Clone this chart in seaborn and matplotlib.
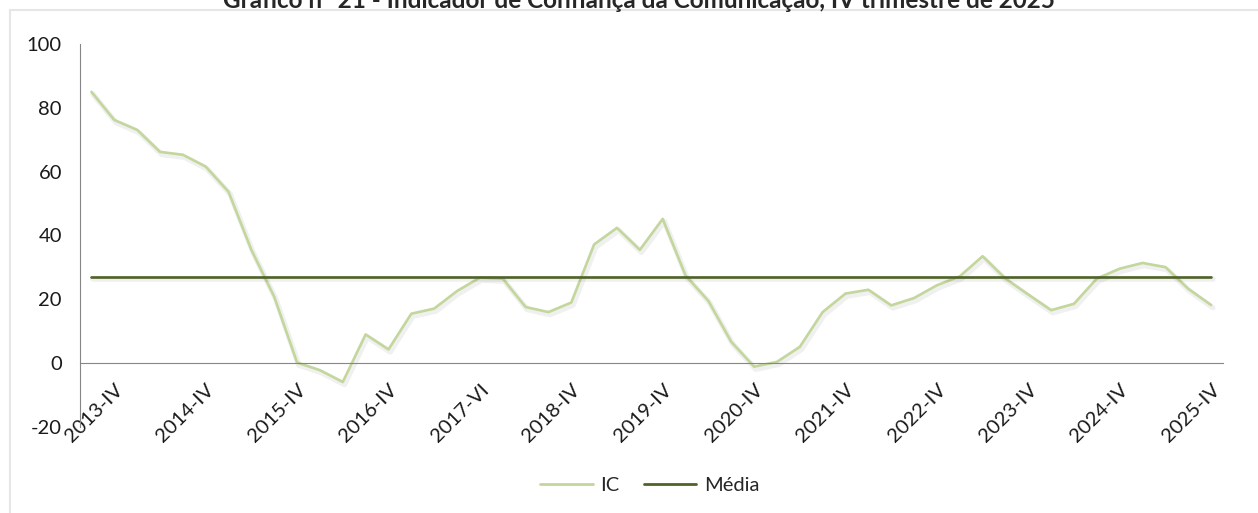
import numpy as np
import pandas as pd
import matplotlib.pyplot as plt
import matplotlib.patheffects as pe
from matplotlib.lines import Line2D
import seaborn as sns

# Trimestres (2013-III a 2025-IV)
trimestres = [f'{a}-{q}' for a in range(2013, 2026) for q in ['I', 'II', 'III', 'IV']][2:]

ic = [85.0, 76.2, 73.1, 66.2, 65.3, 61.6, 53.7, 35.5, 20.8, 0.2,
      -2.2, -5.9, 9.0, 4.3, 15.5, 17.1, 22.6, 26.8, 26.5, 17.6,
      16.0, 19.0, 37.2, 42.4, 35.5, 45.2, 27.5, 19.5, 6.7, -1.1,
      0.4, 5.1, 16.0, 21.8, 23.0, 18.1, 20.4, 24.4, 27.2, 33.5,
      26.5, 21.5, 16.6, 18.6, 26.5, 29.6, 31.4, 30.1, 23.3, 18.2]
media = [27.0] * len(ic)

# rótulos do eixo (como no original)
rotulos = ['2013-IV', '2014-IV', '2015-IV', '2016-IV', '2017-VI', '2018-IV', '2019-IV',
           '2020-IV', '2021-IV', '2022-IV', '2023-IV', '2024-IV', '2025-IV']
pos_rotulos = [trimestres.index(r) if r in trimestres else trimestres.index('2017-IV') for r in rotulos]

cor_ic = '#c3d69b'
cor_media = '#4f6228'

df = pd.DataFrame({'pos': np.arange(len(trimestres)), 'trimestre': trimestres,
                   'IC': ic, 'Média': media})

sns.set_style('white')
plt.rcParams['font.family'] = ['Lato', 'DejaVu Sans']
plt.rcParams['axes.unicode_minus'] = False

fig = plt.figure(figsize=(12.58, 5.13), dpi=100)
ax = fig.add_axes([80 / 1258, 86 / 513, 1142.5 / 1258, 383 / 513])

sombra = [pe.SimpleLineShadow(offset=(1.2, -1.8), shadow_color='black', alpha=0.06, linewidth=4), pe.Normal()]
sns.lineplot(data=df, x='pos', y='IC', color=cor_ic, linewidth=1.9, ax=ax,
             path_effects=sombra)
sns.lineplot(data=df, x='pos', y='Média', color=cor_media, linewidth=1.9, ax=ax,
             path_effects=sombra)

ax.set_xlim(-0.5, len(trimestres) - 0.5)
ax.set_ylim(-20, 100)
ax.set_yticks(range(-20, 101, 20))
ax.set_xlabel('')
ax.set_ylabel('')

for s in ['top', 'right']:
    ax.spines[s].set_visible(False)
ax.spines['left'].set_color('#868686')
ax.spines['bottom'].set_color('#868686')
ax.spines['bottom'].set_position(('data', 0))

ax.set_xticks(np.arange(-0.5, len(trimestres), 1.0))
ax.set_xticklabels([])
ax.tick_params(axis='x', which='major', direction='out', length=6, color='#868686', width=1)
ax.set_xticks(pos_rotulos, minor=True)
ax.set_xticklabels(rotulos, minor=True, rotation=45, ha='right', va='top',
                   rotation_mode='anchor', fontsize=14.5, color='#1a1a1a')
ax.tick_params(axis='x', which='minor', length=0, pad=13)
ax.tick_params(axis='y', direction='out', length=6, color='#868686', labelsize=14.5,
               labelcolor='#1a1a1a', pad=7)

# borda da área do gráfico
fig.add_artist(Line2D([10 / 1258, 10 / 1258], [0, 1 - 10 / 513], color='#e6e6e6', lw=1.5))
fig.add_artist(Line2D([10 / 1258, 1], [1 - 10 / 513, 1 - 10 / 513], color='#e6e6e6', lw=1.5))

fig.text(0.508, 1 - 8 / 513, 'Gráfico nº 21 - Indicador de Confiança da Comunicação, IV trimestre de 2025',
         ha='center', va='baseline', fontsize=17.5, fontweight='bold')

handles = [Line2D([], [], color=cor_ic, lw=2), Line2D([], [], color=cor_media, lw=2)]
fig.legend(handles, ['IC', 'Média'], loc='center', bbox_to_anchor=(650 / 1258, 1 - 485 / 513),
           ncol=2, frameon=False, fontsize=14.5, handlelength=2.6, columnspacing=1.2, handletextpad=0.4)

plt.savefig('out.png', dpi=100)
plt.close()
